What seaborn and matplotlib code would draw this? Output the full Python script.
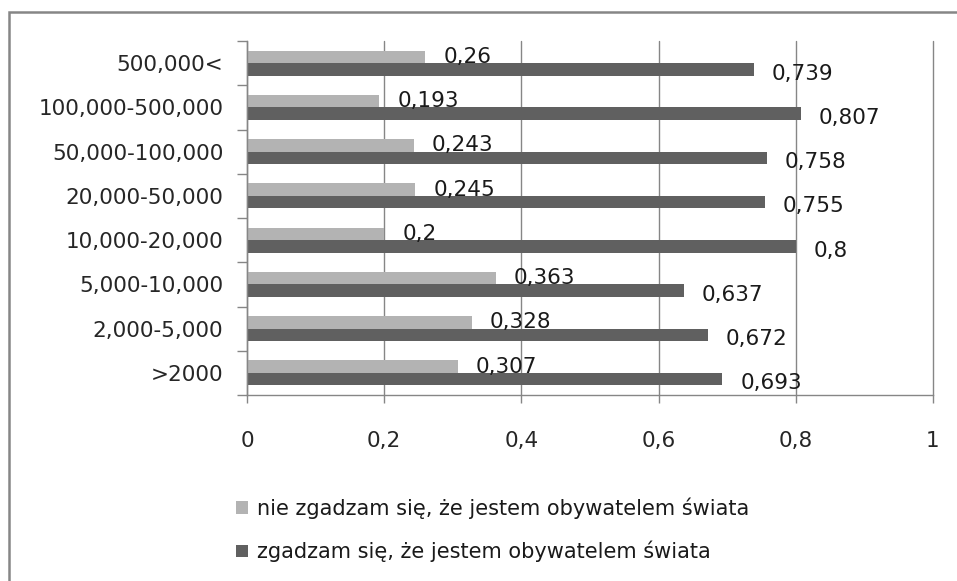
import matplotlib
matplotlib.use('Agg')
import matplotlib.pyplot as plt
import seaborn as sns
import pandas as pd
import numpy as np
from matplotlib.patches import Rectangle

# Data
categories = ['500,000<', '100,000-500,000', '50,000-100,000', '20,000-50,000',
              '10,000-20,000', '5,000-10,000', '2,000-5,000', '>2000']
series_names = ['nie zgadzam się, że jestem obywatelem świata',
                'zgadzam się, że jestem obywatelem świata']
disagree = [0.26, 0.193, 0.243, 0.245, 0.2, 0.363, 0.328, 0.307]
agree = [0.739, 0.807, 0.758, 0.755, 0.8, 0.637, 0.672, 0.693]
x_ticks = [0, 0.2, 0.4, 0.6, 0.8, 1]
x_tick_labels = ['0', '0,2', '0,4', '0,6', '0,8', '1']

df = pd.DataFrame({
    'kategoria': categories * 2,
    'seria': [series_names[0]] * len(categories) + [series_names[1]] * len(categories),
    'wartosc': disagree + agree,
})

sns.set_style('white')
plt.rcParams['font.family'] = ['DejaVu Sans']
plt.rcParams['text.color'] = '#1a1a1a'
fs = 15.5

fig = plt.figure(figsize=(9.57, 5.81), dpi=100)
ax = fig.add_axes([247 / 957, 1 - 395 / 581, (933 - 247) / 957, (395 - 41) / 581])

# Outer frame of the chart (runs off the right and bottom edges)
fig.patches.append(Rectangle((9 / 957, -0.05), 1.0, 1.05 - 12 / 581,
                             transform=fig.transFigure, fill=False,
                             edgecolor='#868686', linewidth=1.8, zorder=0))

sns.barplot(data=df, x='wartosc', y='kategoria', hue='seria', order=categories,
            hue_order=series_names, palette=['#b3b3b3', '#606060'],
            orient='h', width=0.57, gap=0, saturation=1, ax=ax, legend=True,
            edgecolor='none', linewidth=0)

# Value labels with decimal comma
for cont, dy in zip(ax.containers, [0, 3]):
    labels = [str(v.get_width()).replace('.', ',') for v in cont]
    anns = ax.bar_label(cont, labels=labels, padding=13, fontsize=fs, color='#1a1a1a')
    for a in anns:
        a.set_y(-dy)

ax.set_xlim(0, 1)
ax.set_ylim(len(categories) - 0.5, -0.5)
ax.set_xticks(x_ticks)
ax.set_xticklabels(x_tick_labels, fontsize=fs)
ax.tick_params(axis='x', which='major', length=6, width=1, color='#868686',
               direction='out', pad=20, bottom=True)
ax.tick_params(axis='y', which='major', length=0, pad=17, labelsize=fs)
ax.set_yticks(np.arange(-0.5, len(categories), 1), minor=True)
ax.tick_params(axis='y', which='minor', length=7, width=1, color='#868686',
               direction='out', left=True)
ax.grid(axis='x', color='#868686', linewidth=1)
for gl in ax.get_xgridlines():
    gl.set_clip_on(False)
ax.set_axisbelow(True)
ax.set(xlabel=None, ylabel=None)
for side in ['top', 'right']:
    ax.spines[side].set_visible(False)
for side in ['left', 'bottom']:
    ax.spines[side].set_color('#868686')
    ax.spines[side].set_linewidth(1)

# Legend below the plot
handles, labels = ax.get_legend_handles_labels()
ax.get_legend().remove()
fig.legend(handles, labels, loc='upper left', bbox_to_anchor=(228 / 957, 1 - 489 / 581),
           frameon=False, fontsize=15, handlelength=0.55, handleheight=0.55,
           handletextpad=0.45, labelspacing=1.05, borderaxespad=0)

plt.savefig('out.png', dpi=100)
